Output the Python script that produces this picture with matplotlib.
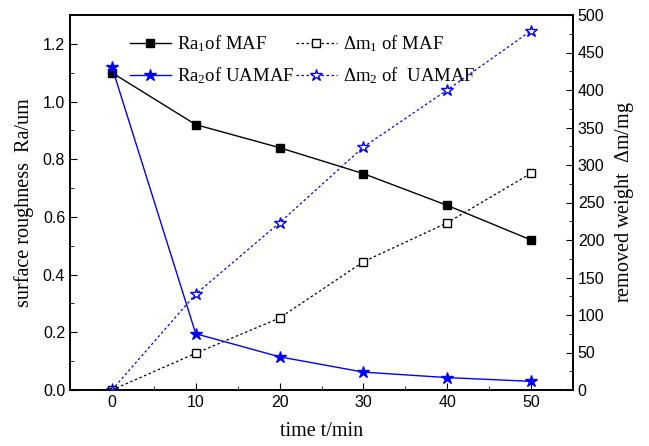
import matplotlib
matplotlib.use("Agg")
import matplotlib.pyplot as plt
from matplotlib.ticker import MultipleLocator

t = [0, 10, 20, 30, 40, 50]
ra1_maf = [1.10, 0.92, 0.84, 0.75, 0.64, 0.52]
ra2_uamaf = [1.12, 0.195, 0.115, 0.062, 0.043, 0.030]
dm1_maf = [0, 49, 96, 171, 223, 289]
dm2_uamaf = [0, 128, 223, 324, 400, 479]

serif = ["Liberation Serif", "DejaVu Serif"]
sans = ["Liberation Sans", "DejaVu Sans"]
plt.rcParams["mathtext.fontset"] = "custom"
plt.rcParams["mathtext.rm"] = "Liberation Serif"
plt.rcParams["mathtext.it"] = "Liberation Serif:italic"

fig = plt.figure(figsize=(6.49, 4.46), dpi=100)
ax = fig.add_axes([70/649, 56/446, 503/649, 375/446])
ax2 = ax.twinx()

l1, = ax.plot(t, ra1_maf, color="black", lw=1, marker="s", ms=6, label="Ra$_1$of MAF")
l2, = ax.plot(t, ra2_uamaf, color="blue", lw=1, marker="*", ms=9, label="Ra$_2$of UAMAF")
l3, = ax2.plot(t, dm1_maf, color="black", lw=0.9, ls=(0, (2, 2)), marker="s", ms=6,
               mfc="white", mec="black", label=r"$\Delta$m$_1$ of MAF")
l4, = ax2.plot(t, dm2_uamaf, color="blue", lw=0.9, ls=(0, (2, 2)), marker="*", ms=9,
               mfc="white", mec="blue", label=r"$\Delta$m$_2$ of  UAMAF")

ax.set_xlim(-5, 55)
ax.set_ylim(0, 1.3)
ax2.set_ylim(0, 500)
ax.xaxis.set_major_locator(MultipleLocator(10))
ax.xaxis.set_minor_locator(MultipleLocator(5))
ax.yaxis.set_major_locator(MultipleLocator(0.2))
ax.yaxis.set_minor_locator(MultipleLocator(0.1))
ax2.yaxis.set_major_locator(MultipleLocator(50))
ax2.yaxis.set_minor_locator(MultipleLocator(25))

for a in (ax, ax2):
    a.tick_params(which="both", direction="in", top=False, labelsize=11.5)
    a.tick_params(which="major", length=5)
    a.tick_params(which="minor", length=3)
    for lab in a.get_xticklabels() + a.get_yticklabels():
        lab.set_family(sans)
    for s in a.spines.values():
        s.set_linewidth(1.2)

ax.set_xlabel("time t/min", family=serif, fontsize=14.5, labelpad=9)
ax.set_ylabel("surface roughness  Ra/um", family=serif, fontsize=14.5, labelpad=6)
ax2.set_ylabel(r"removed weight  $\Delta$m/mg", family=serif, fontsize=14.5, labelpad=6)

leg = ax.legend(handles=[l1, l2, l3, l4], ncol=2, frameon=False,
                loc="upper left", bbox_to_anchor=(0.085, 0.995),
                prop={"family": serif, "size": 13.5},
                handlelength=2.2, columnspacing=0.1, handletextpad=0.3,
                labelspacing=0.6)

fig.savefig("out.png", dpi=100)
